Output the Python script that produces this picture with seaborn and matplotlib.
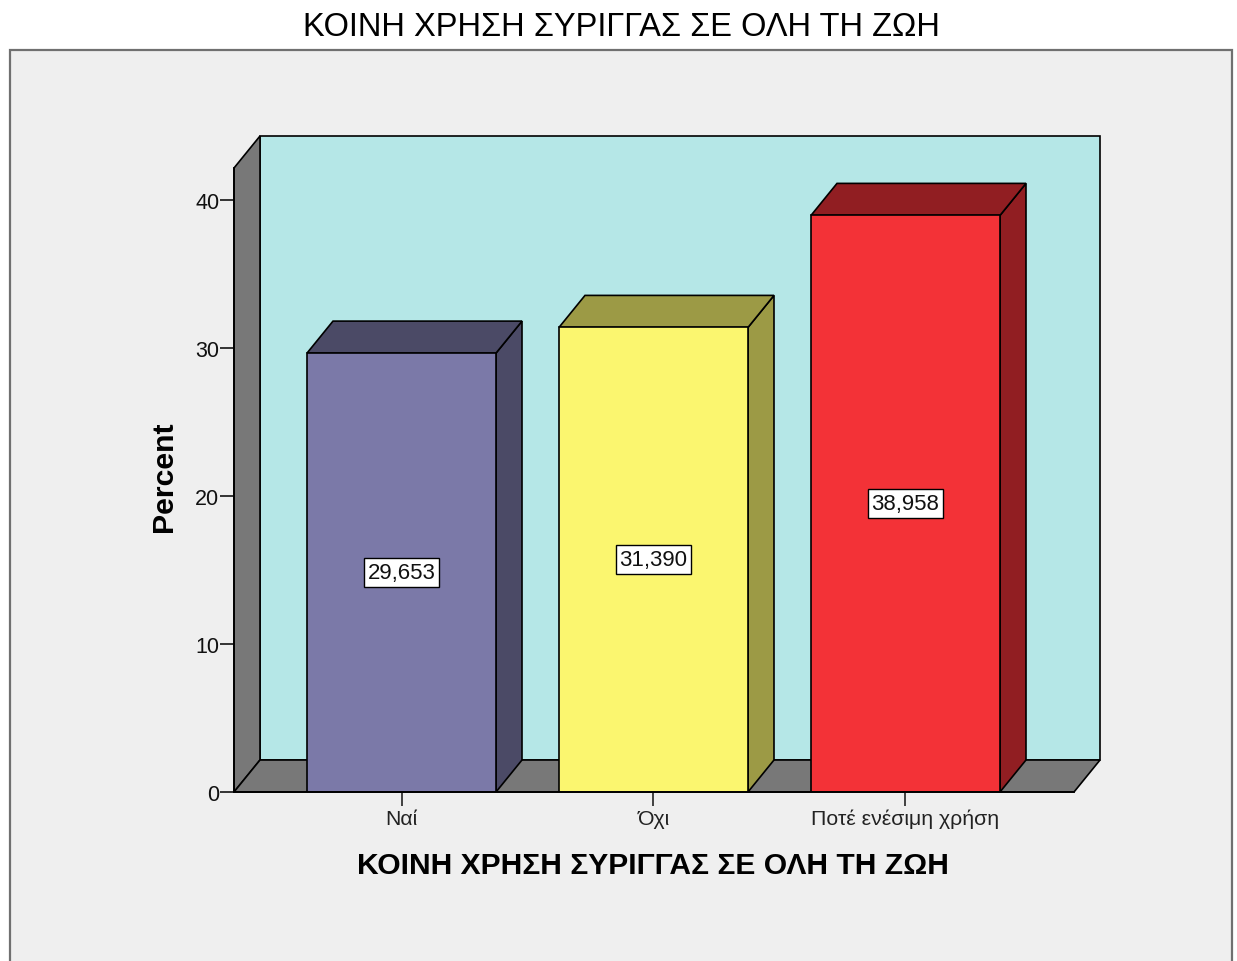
import pandas as pd
import matplotlib
matplotlib.use("Agg")
import matplotlib.pyplot as plt
import seaborn as sns
from matplotlib.patches import Polygon, Rectangle

W, H = 1237, 962

title = "ΚΟΙΝΗ ΧΡΗΣΗ ΣΥΡΙΓΓΑΣ ΣΕ ΟΛΗ ΤΗ ΖΩΗ"
categories = ["Ναί", "Όχι", "Ποτέ ενέσιμη χρήση"]
percent = [29.653, 31.390, 38.958]
front_colors = ["#7B79A8", "#FBF66F", "#F33237"]
dark_colors = ["#4B4A66", "#9C9A45", "#911E22"]
y_ticks = [0, 10, 20, 30, 40]

sns.set_style("white")
plt.rcParams['font.family'] = ['Liberation Sans', 'DejaVu Sans']

fig = plt.figure(figsize=(W / 100, H / 100), dpi=100, facecolor="white")
fig.add_artist(Rectangle((10 / W, -0.05), 1222 / W, 1.05 - 51 / H, transform=fig.transFigure,
                         facecolor="#EFEFEF", edgecolor="#707070", linewidth=1.6, zorder=-1))

# front plane of the box in pixels
left, right, bottom, top = 234, 1074, 793, 169
ax = fig.add_axes([left / W, 1 - bottom / H, (right - left) / W, (bottom - top) / H])
ax.patch.set_alpha(0)

df = pd.DataFrame({"cat": categories, "pct": percent})
sns.barplot(data=df, x="cat", y="pct", hue="cat", palette=front_colors, legend=False,
            width=0.75, saturation=1, edgecolor="black", linewidth=1.2, ax=ax, zorder=5)

ax.set_xlim(-0.6647, 2.6687)
ax.set_ylim(0, 42.16)
ax.set_yticks(y_ticks)
ax.tick_params(axis="y", length=10, width=1.1, color="black", labelcolor="#111111", labelsize=15.5, pad=0.5, left=True)
ax.tick_params(axis="x", length=10, width=1.3, color="#333333", labelcolor="#222222", labelsize=15.3, pad=2, bottom=True)
for s in ["top", "right"]:
    ax.spines[s].set_visible(False)
for s in ["left", "bottom"]:
    ax.spines[s].set_color("black")
    ax.spines[s].set_linewidth(1.3)
    ax.spines[s].set_zorder(6)

ax.set_xlabel(title, fontsize=21.6, fontweight="bold", color="black", labelpad=20)
ax.set_ylabel("Percent", fontsize=21.8, fontweight="bold", color="black", labelpad=17)
fig.canvas.draw()
ax.xaxis.set_label_coords((653 - left) / (right - left), -(852 - bottom) / (bottom - top))
ax.yaxis.set_label_coords(-(left - 178) / (right - left), (bottom - 477) / (bottom - top))

dx, dy = 26, 32


def face(points, color, z):
    ax.add_patch(Polygon(points, closed=True, transform=None, facecolor=color, edgecolor="black",
                         linewidth=1.2, zorder=z, clip_on=False))


# walls and floor of the box
x0, y0 = left, H - bottom
x1, y1 = right, H - top
face([(x0 + dx, y0 + dy), (x1 + dx, y0 + dy), (x1 + dx, y1 + dy), (x0 + dx, y1 + dy)], "#B5E7E7", 1)
face([(x0, y0), (x0 + dx, y0 + dy), (x0 + dx, y1 + dy), (x0, y1)], "#787878", 2)
face([(x0, y0), (x1, y0), (x1 + dx, y0 + dy), (x0 + dx, y0 + dy)], "#787878", 2)

# depth faces of each bar
for cont, dark in zip(ax.containers, dark_colors):
    bar = cont.patches[0]
    (a, b), (c, d) = ax.transData.transform([(bar.get_x(), 0), (bar.get_x() + bar.get_width(), bar.get_height())])
    face([(c, b), (c + dx, b + dy), (c + dx, d + dy), (c, d)], dark, 4)
    face([(a, d), (c, d), (c + dx, d + dy), (a + dx, d + dy)], dark, 4)

for cont, v in zip(ax.containers, percent):
    ax.bar_label(cont, labels=[f"{v:.3f}".replace(".", ",")], label_type="center", fontsize=16, color="#111111",
                 zorder=8, bbox=dict(boxstyle="square,pad=0.17", facecolor="white", edgecolor="black", linewidth=1))

fig.text(621 / W, 1 - 27 / H, title, ha="center", va="center", fontsize=23.5, color="black")

fig.savefig("out.png", dpi=100)
